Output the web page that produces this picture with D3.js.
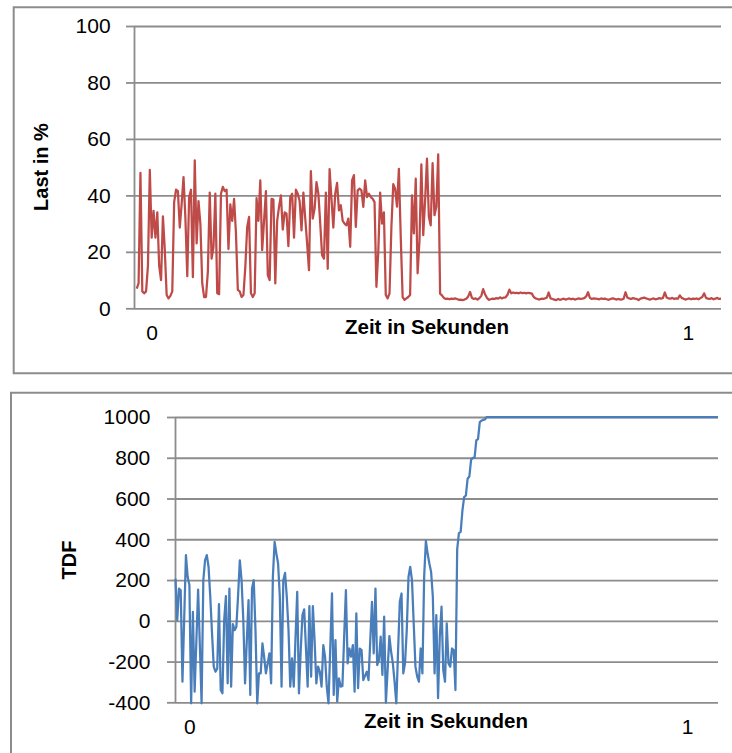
<!DOCTYPE html>
<html>
<head>
<meta charset="utf-8">
<script src="https://cdn.jsdelivr.net/npm/d3@7"></script>
<style>
  body { margin: 0; background: #fff; overflow: hidden; }
  svg { display: block; }
</style>
</head>
<body>
<div id="chart"></div>
<script>
// Last in % (one value per sample)
const loadValues = [
  7, 8.8, 48, 6, 5.3, 6, 15, 49, 25, 34.5,
  25, 34, 15, 10, 32.6, 20.6, 4.7, 3.5, 4.4, 6,
  37.6, 42, 41.5, 28.6, 37, 46.5, 32, 11.4, 39.4, 42,
  11, 52.4, 23, 38, 30, 8.8, 4, 4, 13, 41,
  17.6, 21.8, 40.6, 5.3, 5, 40.6, 43, 41.5, 42, 21,
  36.8, 31, 38.8, 26.5, 6.5, 6, 4, 4.7, 14.7, 28.8,
  32.4, 5.3, 4, 5.3, 39, 31, 45.3, 20.6, 31, 41.5,
  11.8, 10, 38.8, 38.5, 8.8, 31, 35.9, 40, 27.9, 34,
  33.5, 22, 39.4, 40.6,
  25, 42, 40.6, 38, 27.6, 41, 31.8, 23, 13.5, 48.6,
  31.8, 35.3, 44.7, 40.6, 30, 18.8, 17.6, 41, 14, 49.3,
  38.8, 28.6, 40.6, 44.4, 34.7, 36.5, 31, 30, 29.4, 31.8,
  21.8, 45.3, 47.2, 28.8, 41.8, 42.4, 41.8, 35.9, 45.3, 39.4,
  40.6, 39.4, 38.8, 37.6, 7.6, 20, 41, 30, 34, 4.7,
  3.5, 5.3, 28.8, 44, 42.4, 36, 49.4, 25, 4, 3,
  3.5, 4, 4.7, 40, 26.5, 45.9, 12.4, 24, 51, 25.9,
  38.2, 53, 32.4, 29.4, 51.4, 33, 36, 54.5, 5.2, 4.6,
  3.7, 3.3, 3.4, 3.2, 3.4, 3.3, 3.5, 3.3, 3.0, 3.1,
  2.9, 3.1, 3.4, 4.2, 5.8, 3.7, 3.3, 3.5, 3.1, 3.6,
  4.4, 6.8, 5.0, 3.7, 3.0, 3.2, 3.4, 3.3, 3.6, 3.4,
  3.9, 3.5, 3.8, 3.9, 4.8, 6.6, 5.3, 5.6, 5.4, 5.5,
  5.3, 5.6, 5.4, 5.5, 5.3, 5.5, 5.4, 5.2, 4.0, 3.5,
  3.3, 3.1, 3.4, 3.3, 3.5, 3.8, 5.6, 3.5, 3.3, 3.1,
  2.9, 3.3, 3.0, 3.2, 3.4, 3.1, 3.3, 3.5, 3.2, 3.4,
  3.1, 3.3, 3.5, 3.3, 3.4, 3.6, 4.2, 5.7, 3.7, 3.3,
  3.5, 3.4, 3.3, 3.2, 3.5, 3.3, 3.4, 3.2, 3.0, 3.3,
  3.5, 3.4, 3.1, 3.3, 3.2, 3.1, 3.4, 5.7, 3.8, 3.5,
  3.3, 3.6, 3.4, 3.3, 2.9, 3.4, 3.6, 3.8, 3.5, 3.3,
  3.1, 3.3, 3.5, 3.2, 3.3, 3.6, 3.4, 3.7, 5.6, 3.8,
  3.5, 3.4, 3.7, 3.3, 3.5, 3.4, 4.6, 3.7, 3.4, 3.1,
  3.3, 3.5, 3.2, 3.4, 3.3, 3.5, 3.2, 3.6, 4.0, 5.3,
  3.7, 3.4, 3.3, 3.6, 3.2, 3.4, 3.7, 3.3, 3.4
]

// TDF (one value per sample)
const tdfValues = [
  207, 3, 158, 150, -299, 10, 322, 215, 175, -405,
  44, -348, -100, 153, -120, -405, 199, 297, 322, 265,
  118, -60, -225, -250, -235, 82, -340, -356, 3, 121,
  -307, 158, -323, -16, -46, -30, 126, 297, 199, 3,
  -307, -100, 101, -364, 158, 199, -46, -405, -258, -258,
  -111, -180, -258, -210, -160, -307, 215, 387, 330, 281,
  118, -323, 199, 235, 118, -46, -323, -185, -323, -90,
  142, -356, -150, 28, 56, -130, -323, 72, -274, 72,
  -100, -307, -225,
  -250, -323, -119, -176, -323, -405, -135, 134, -364, -95,
  -397, -283, -323, -320, -80, 150, -209, -136, -176, -119,
  -348, 36, -331, -136, -144, -291, -270, -250, -291, -100,
  93, -160, 158, -217, -193, -78, -266, 20, -402, -240,
  -75, -152, -209, -300, -405, -150, 93, 134, -258, -209,
  -46, 215, 265, 199, -13, -225, -274, -299, -136, -258,
  215, 392, 330, 281, 240, 118, -258, 28, -380, -78,
  69, -242, -299, -13, -209, -225, -136, -144, -340,
  350, 430, 436, 540, 607, 615, 697, 708, 790, 800,
  800, 885, 893, 975, 982, 986, 988,
  1000, 1000, 1000, 1000, 1000, 1000, 1000, 1000, 1000, 1000,
  1000, 1000, 1000, 1000, 1000, 1000, 1000, 1000, 1000, 1000,
  1000, 1000, 1000, 1000, 1000, 1000, 1000, 1000, 1000, 1000,
  1000, 1000, 1000, 1000, 1000, 1000, 1000, 1000, 1000, 1000,
  1000, 1000, 1000, 1000, 1000, 1000, 1000, 1000, 1000, 1000,
  1000, 1000, 1000, 1000, 1000, 1000, 1000, 1000, 1000, 1000,
  1000, 1000, 1000, 1000, 1000, 1000, 1000, 1000, 1000, 1000,
  1000, 1000, 1000, 1000, 1000, 1000, 1000, 1000, 1000, 1000,
  1000, 1000, 1000, 1000, 1000, 1000, 1000, 1000, 1000, 1000,
  1000, 1000, 1000, 1000, 1000, 1000, 1000, 1000, 1000, 1000,
  1000, 1000, 1000, 1000, 1000, 1000, 1000, 1000, 1000, 1000,
  1000, 1000, 1000, 1000, 1000, 1000, 1000, 1000, 1000, 1000,
  1000, 1000, 1000, 1000, 1000, 1000, 1000, 1000, 1000, 1000,
  1000, 1000, 1000, 1000
]

// time of first / last sample in seconds, and the labelled times
const timeRange = [-0.028, 1.062]
const timeTicks = [0, 1]
const loadTicks = [0, 20, 40, 60, 80, 100]
const tdfTicks = [-400, -200, 0, 200, 400, 600, 800, 1000]

const xTitle = 'Zeit in Sekunden'
const font = '"Liberation Sans", Arial, sans-serif'
const gridColor = '#8c8c8c'

const width = 732
const height = 753

const svg = d3.select('#chart')
  .append('svg')
  .attr('width', width)
  .attr('height', height)
  .style('background', '#fff')

const drawPanel = (cfg) => {
  const g = svg.append('g')

  // outer chart frame (its right side is cut off by the picture)
  const [fx, fy, fb] = cfg.frame
  g.append('path')
    .attr('d', `M${width + 20},${fy} H${fx} V${fb} H${width + 20}`)
    .attr('fill', 'none')
    .attr('stroke', gridColor)
    .attr('stroke-width', 2)

  const y = d3.scaleLinear()
    .domain(d3.extent(cfg.ticks))
    .range([cfg.bottom, cfg.top])

  const xi = d3.scaleLinear()
    .domain([0, cfg.values.length - 1])
    .range([cfg.seriesLeft, cfg.right])

  const xt = d3.scaleLinear()
    .domain(timeRange)
    .range([cfg.seriesLeft, cfg.right])

  // gridlines
  const grid = g.append('g')
    .attr('transform', `translate(${cfg.left},0)`)
    .call(d3.axisLeft(y).tickValues(cfg.ticks).tickSize(-(cfg.right - cfg.left)).tickFormat(''))
  grid.select('.domain').remove()
  grid.selectAll('line').attr('stroke', gridColor).attr('stroke-width', 1.8)

  // y axis with outside ticks
  const ya = g.append('g')
    .attr('transform', `translate(${cfg.left},0)`)
    .call(d3.axisLeft(y).tickValues(cfg.ticks).tickSize(8).tickSizeOuter(0)
      .tickPadding(cfg.labelPad).tickFormat(d => String(d)))
  ya.select('.domain').attr('stroke', gridColor).attr('stroke-width', 1.8)
  ya.selectAll('line').attr('stroke', gridColor).attr('stroke-width', 1.8)
  ya.selectAll('text')
    .style('font', `21px ${font}`)
    .attr('fill', '#000')

  // x labels
  const xa = g.append('g')
    .attr('transform', `translate(0,${cfg.xLabelY})`)
    .call(d3.axisBottom(xt).tickValues(timeTicks).tickSize(0).tickFormat(d => String(d)))
  xa.select('.domain').remove()
  xa.selectAll('text')
    .attr('y', 0)
    .attr('dy', 0)
    .style('font', `21px ${font}`)
    .attr('fill', '#000')

  g.append('text')
    .attr('x', cfg.xTitleX)
    .attr('y', cfg.xTitleY)
    .attr('text-anchor', 'middle')
    .style('font', `bold 20.5px ${font}`)
    .text(xTitle)

  g.append('text')
    .attr('transform', `translate(${cfg.yTitleX},${cfg.yTitleY}) rotate(-90)`)
    .attr('text-anchor', 'middle')
    .attr('dy', '0.36em')
    .style('font', `bold 20px ${font}`)
    .text(cfg.yTitle)

  const line = d3.line()
    .x((_, i) => xi(i))
    .y(d => y(d))

  g.append('path')
    .datum(cfg.values)
    .attr('d', line)
    .attr('fill', 'none')
    .attr('stroke', cfg.color)
    .attr('stroke-width', 2.25)
    .attr('stroke-linejoin', 'round')
}

drawPanel({
  frame: [13.7, 7.3, 373.3],
  left: 134, right: 721, top: 26, bottom: 308.3, seriesLeft: 136.7,
  ticks: loadTicks, values: loadValues, labelPad: 15.4,
  color: '#BE4B48',
  xLabelY: 340, xTitleX: 427, xTitleY: 333.5,
  yTitle: 'Last in %', yTitleX: 41, yTitleY: 167
})

drawPanel({
  frame: [11, 392.7, 800],
  left: 175, right: 718, top: 417, bottom: 702.3, seriesLeft: 175.5,
  ticks: tdfTicks, values: tdfValues, labelPad: 16.7,
  color: '#4A7EBB',
  xLabelY: 734.3, xTitleX: 446, xTitleY: 728.3,
  yTitle: 'TDF', yTitleX: 69, yTitleY: 560
})
</script>
</body>
</html>
